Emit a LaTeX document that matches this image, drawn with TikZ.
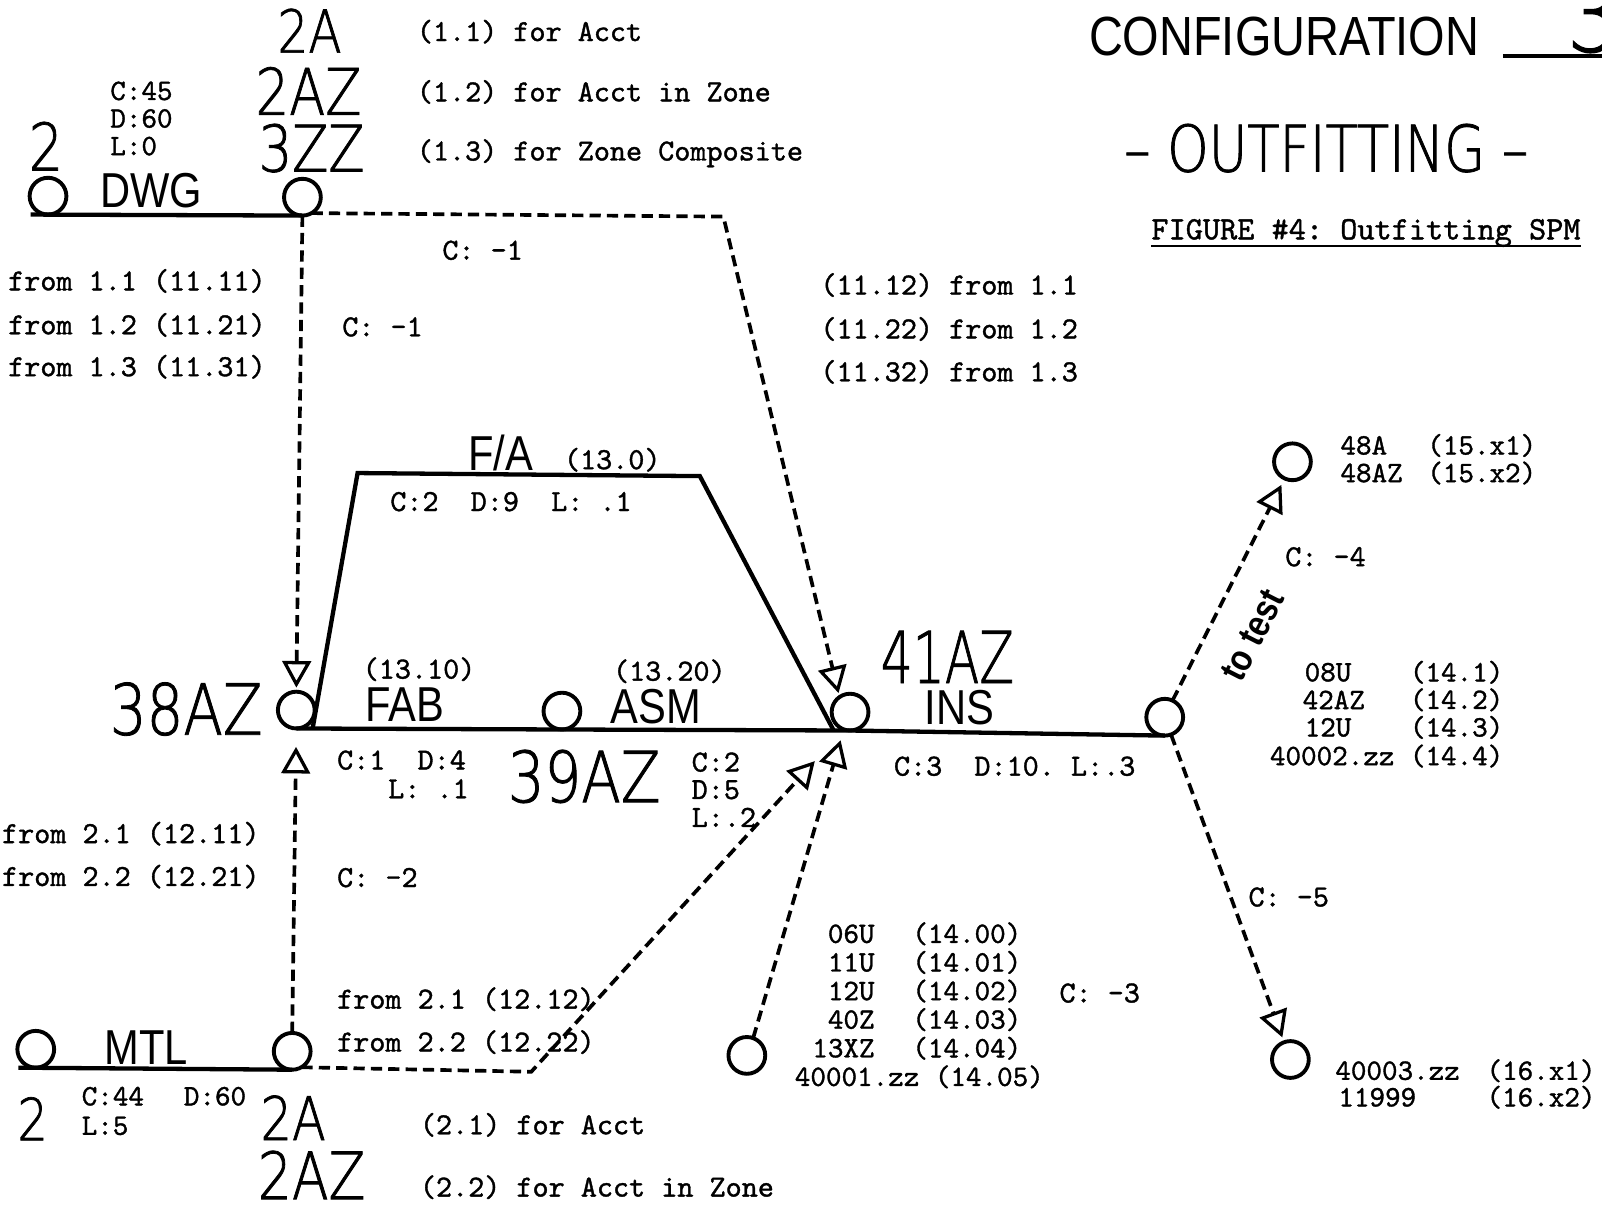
\documentclass[tikz,border=0pt]{standalone}
\usepackage{fontspec}
\setmonofont{lmmono10-regular.otf}[FakeBold=1.2]
\newfontfamily\lett{Liberation Sans}[FakeStretch=0.85]
\newfontfamily\lettlight{DejaVuSans-ExtraLight.ttf}[FakeStretch=0.82, FakeBold=1.2]
\usetikzlibrary{arrows.meta}
\tikzset{
  every node/.style={inner sep=0pt, outer sep=0pt},
  tw/.style={font=\fontsize{30}{30}\selectfont\ttfamily, anchor=west},
  tws/.style={font=\fontsize{29}{29}\selectfont\ttfamily},
  big/.style={font=\lettlight\fontsize{#1}{#1}\selectfont},
  mid/.style={font=\lett\fontsize{#1}{#1}\selectfont},
  stn/.style={circle, draw, line width=3.8pt, minimum size=36pt},
  solidln/.style={line width=4.2pt},
  dashln/.style={line width=3.6pt, dash pattern=on 11pt off 6pt},
  arr/.style={-{Triangle[open, length=26pt, width=28pt, line width=3.2pt]}},
}
\begin{document}
\begin{tikzpicture}[x=1pt,y=-1pt]
\useasboundingbox[fill=white] (0,0) rectangle (1568,1183);

% ---------- stations ----------
\node[stn] (dwgL) at (47,192) {};
\node[stn] (dwgR) at (296,193) {};
\node[stn] (az38) at (290,695) {};
\node[stn] (asm)  at (550,696) {};
\node[stn] (ins)  at (832,697) {};
\node[stn] (rc)   at (1140,702) {};
\node[stn] (tr)   at (1265,452) {};
\node[stn] (br)   at (1263,1037) {};
\node[stn] (bc)   at (731,1033) {};
\node[stn] (mtlL) at (35,1027) {};
\node[stn] (mtlR) at (286,1029) {};

\coordinate (k1) at (708,212);
\coordinate (fa1) at (350,463);
\coordinate (fa2) at (685,466);
\coordinate (k2) at (520,1049);
\coordinate (u1) at (1471,55);
\coordinate (u2) at (1570,55);

% ---------- connectors ----------
\draw[solidln] ([xshift=-17pt]dwgL.south) -- (dwgR.south);
\draw[dashln,arr,shorten >=4pt] (dwgR.-60) -- (k1) -- (ins.125);
\draw[dashln,arr,shorten >=4pt] (dwgR.south) -- (az38.north);
\draw[dashln,arr,shorten >=18pt] (mtlR.north) -- (az38.south);
\draw[solidln] (az38.south) -- (asm.south) -- (ins.south) -- (rc.south);
\draw[solidln] ([xshift=16pt]az38.south) -- (fa1) -- (fa2) -- ([xshift=-16pt]ins.south);
\draw[solidln] ([xshift=-17pt]mtlL.south) -- (mtlR.south);
\draw[dashln,arr,shorten >=42pt] (mtlR.-60) -- (k2) -- (ins.250);
\draw[dashln,arr,shorten >=11pt] (bc.70) -- (ins.250);
\draw[dashln,arr,shorten >=7pt] (rc.65) -- (tr.245);
\draw[dashln,arr,shorten >=5pt] (rc.-70) -- (br.110);
\draw[line width=3.5pt] (u1) -- (u2);

% ---------- top left ----------
\node[big=58] (t2A) at (303,30) {2A};
\node[big=63] (t2AZ) at (302,89) {2AZ};
\node[big=63] (t3ZZ) at (305,145) {3ZZ};
\node[tw] (l11) at (408,31) {(1.1) for Acct};
\node[tw] (l12) at (408,90) {(1.2) for Acct in Zone};
\node[tw] (l13) at (408,150) {(1.3) for Zone Composite};
\node[tws,anchor=west] (c45) at (108,89) {C:45};
\node[tws,anchor=west] (d60) at (108,116) {D:60};
\node[tws,anchor=west] (l0) at (108,143) {L:0};
\node[big=64] (two1) at (45,143) {2};
\node[mid=48] (tdwg) at (148,187) {DWG};

\node[tw] (c1a) at (433,245) {C: -1};
\node[tw] (f11) at (8,275) {from 1.1 (11.11)};
\node[tw] (f12) at (8,318) {from 1.2 (11.21)};
\node[tw] (f13) at (8,359) {from 1.3 (11.31)};
\node[tw] (c1b) at (335,320) {C: -1};
\node[tw] (r11) at (803,279) {(11.12) from 1.1};
\node[tw] (r12) at (803,322) {(11.22) from 1.2};
\node[tw] (r13) at (803,364) {(11.32) from 1.3};

% ---------- top right ----------
\node[mid=54, anchor=west] (config) at (1066,36) {CONFIGURATION};
\node[big=100] (three) at (1560,14) {3};
\node[big=63] (outfit) at (1298,145) {– OUTFITTING –};
\node[font=\fontsize{32}{32}\selectfont\ttfamily, anchor=west] (fig) at (1127,228) {FIGURE \#4: Outfitting SPM};
\draw[line width=2.2pt] ([yshift=-13pt]fig.west) -- ([yshift=-13pt]fig.east);

% ---------- middle ----------
\node[mid=48] (tfa) at (490,443) {F/A};
\node[tw] (t130) at (552,450) {(13.0)};
\node[tw] (cfa) at (382,491) {C:2\ \ D:9\ \ L: .1};
\node[big=69, anchor=east] (t38) at (257,694) {38AZ};
\node[tw] (t1310) at (355,655) {(13.10)};
\node[mid=48, anchor=west] (tfab) at (358,690) {FAB};
\node[mid=48, anchor=west] (tasm) at (598,692) {ASM};
\node[tw] (t1320) at (600,657) {(13.20)};
\node[big=70, anchor=west, xscale=0.86] (t41) at (862,643) {41AZ};
\node[mid=48, anchor=west] (tins) at (905,693) {INS};
\node[tw] (cd1) at (330,744) {C:1\ \ D:4};
\node[tw] (cl1) at (380,772) {L: .1};
\node[big=69, anchor=west] (t39) at (497,760) {39AZ};
\node[tw] (cc2) at (677,746) {C:2};
\node[tw] (cd5) at (677,773) {D:5};
\node[tw] (cl2) at (677,800) {L:.2};
\node[tw] (cins) at (875,750) {C:3\ \ D:10. L:.3};

% ---------- lower left ----------
\node[tw] (f21) at (2,816) {from 2.1 (12.11)};
\node[tw] (f22) at (2,858) {from 2.2 (12.21)};
\node[tw] (c2) at (330,859) {C: -2};
\node[tw] (g21) at (330,978) {from 2.1 (12.12)};
\node[tw] (g22) at (330,1020) {from 2.2 (12.22)};
\node[mid=48] (tmtl) at (143,1025) {MTL};
\node[big=57] (two2) at (32,1095) {2};
\node[tws,anchor=west] (c44) at (80,1073) {C:44};
\node[tws,anchor=west] (l5) at (80,1102) {L:5};
\node[tws,anchor=west] (d60b) at (180,1073) {D:60};
\node[big=59] (t2Ab) at (287,1094) {2A};
\node[big=64] (t2AZb) at (305,1150) {2AZ};
\node[tw] (m21) at (411,1101) {(2.1) for Acct};
\node[tw] (m22) at (411,1162) {(2.2) for Acct in Zone};

% ---------- lower middle list ----------
\node[tws,anchor=east] (a0) at (856,914) {06U};
\node[tws,anchor=west] (b0) at (893,914) {(14.00)};
\node[tws,anchor=east] (a1) at (856,942) {11U};
\node[tws,anchor=west] (b1) at (893,942) {(14.01)};
\node[tws,anchor=east] (a2) at (856,970) {12U};
\node[tws,anchor=west] (b2) at (893,970) {(14.02)};
\node[tws,anchor=east] (a3) at (856,998) {40Z};
\node[tws,anchor=west] (b3) at (893,998) {(14.03)};
\node[tws,anchor=east] (a4) at (856,1026) {13XZ};
\node[tws,anchor=west] (b4) at (893,1026) {(14.04)};
\node[tws,anchor=west] (a5) at (778,1054) {40001.zz (14.05)};
\node[tw] (c3) at (1037,972) {C: -3};

% ---------- right ----------
\node[tws,anchor=west] (s1) at (1312,436) {48A};
\node[tws,anchor=west] (s1b) at (1397,436) {(15.x1)};
\node[tws,anchor=west] (s2) at (1312,463) {48AZ};
\node[tws,anchor=west] (s2b) at (1397,463) {(15.x2)};
\node[tw] (c4) at (1258,545) {C: -4};
\node[font=\lett\bfseries\fontsize{37}{37}\selectfont, rotate=63] (totest) at (1226,622) {to test};
\node[tws,anchor=west] (p1) at (1277,658) {08U};
\node[tws,anchor=west] (q1) at (1380,658) {(14.1)};
\node[tws,anchor=west] (p2) at (1275,685) {42AZ};
\node[tws,anchor=west] (q2) at (1380,685) {(14.2)};
\node[tws,anchor=west] (p3) at (1277,712) {12U};
\node[tws,anchor=west] (q3) at (1380,712) {(14.3)};
\node[tws,anchor=west] (p4) at (1243,740) {40002.zz};
\node[tws,anchor=west] (q4) at (1380,740) {(14.4)};
\node[tw] (c5) at (1222,878) {C: -5};
\node[tws,anchor=west] (w1) at (1307,1048) {40003.zz};
\node[tws,anchor=west] (w1b) at (1455,1048) {(16.x1)};
\node[tws,anchor=west] (w2) at (1310,1074) {11999};
\node[tws,anchor=west] (w2b) at (1455,1074) {(16.x2)};
\end{tikzpicture}
\end{document}
